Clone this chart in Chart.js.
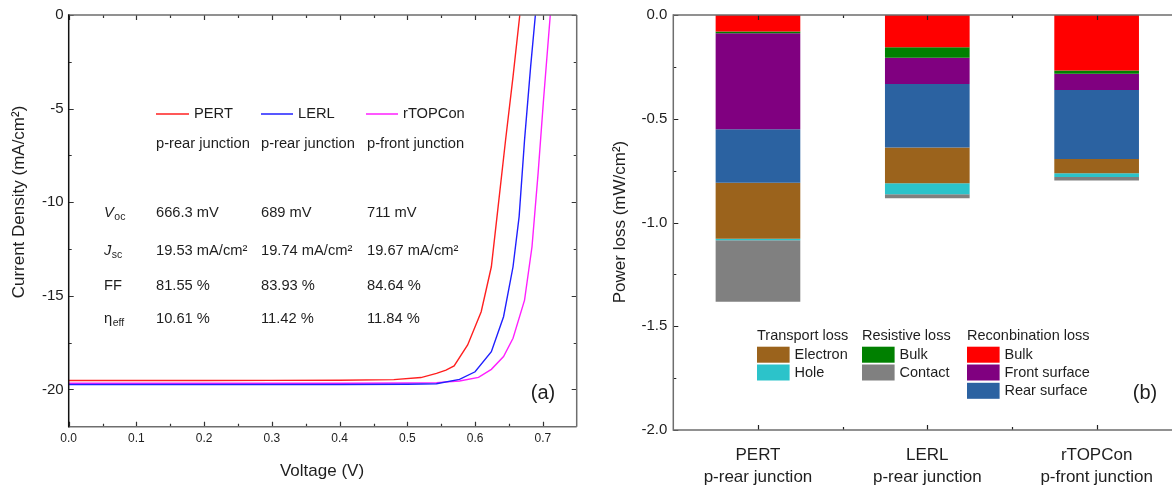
<!DOCTYPE html>
<html><head><meta charset="utf-8">
<script src="https://cdn.jsdelivr.net/npm/chart.js@4.4.0/dist/chart.umd.min.js"></script>
<style>
html,body{margin:0;padding:0;width:1172px;height:489px;overflow:hidden;background:#fff;}
#wl{position:absolute;left:0;top:0;width:590px;height:489px;}
#wr{position:absolute;left:590px;top:0;width:600px;height:489px;}
</style></head><body>
<div id="wl"><canvas id="cl" width="590" height="489"></canvas></div>
<div id="wr"><canvas id="cr" width="600" height="489"></canvas></div>
<script>
const FONT = '"Liberation Sans", Arial, Helvetica, sans-serif';
const TXT = '#1e1e1e';
const ANNO = '14.7px ';

// ---------- (a) J-V curves ----------
const seriesNames = ['PERT', 'LERL', 'rTOPCon'];
const seriesJunction = ['p-rear junction', 'p-rear junction', 'p-front junction'];
const seriesColors = ['#ff2020', '#2020ff', '#ff20ff'];

const pertV = [0, 0.1, 0.2, 0.3, 0.4, 0.48, 0.52, 0.543, 0.557, 0.569, 0.589, 0.609, 0.624, 0.634, 0.645, 0.656, 0.666];
const pertJ = [-19.53, -19.53, -19.53, -19.52, -19.51, -19.48, -19.37, -19.15, -18.97, -18.75, -17.63, -15.85, -13.45, -10.24, -6.68, -3.29, 0];
const lerlV = [0, 0.1, 0.2, 0.3, 0.4, 0.5, 0.543, 0.577, 0.600, 0.624, 0.642, 0.656, 0.665, 0.673, 0.682, 0.689];
const lerlJ = [-19.74, -19.74, -19.74, -19.74, -19.74, -19.73, -19.70, -19.47, -19.06, -17.99, -16.12, -13.45, -10.77, -6.68, -2.76, 0];
const rtopV = [0, 0.1, 0.2, 0.3, 0.4, 0.5, 0.543, 0.577, 0.605, 0.624, 0.642, 0.656, 0.673, 0.684, 0.693, 0.701, 0.711];
const rtopJ = [-19.67, -19.67, -19.67, -19.67, -19.67, -19.66, -19.64, -19.55, -19.36, -18.93, -18.25, -17.27, -15.23, -12.38, -8.46, -4.54, 0];

const xTickVals = [0, 0.1, 0.2, 0.3, 0.4, 0.5, 0.6, 0.7];
const xTickLabels = ['0.0', '0.1', '0.2', '0.3', '0.4', '0.5', '0.6', '0.7'];
const xMinorVals = [0.05, 0.15, 0.25, 0.35, 0.45, 0.55, 0.65];
const yTickVals = [0, -5, -10, -15, -20];
const yTickLabels = ['0', '-5', '-10', '-15', '-20'];
const yMinorVals = [-2.5, -7.5, -12.5, -17.5];

const vocVals = ['666.3 mV', '689 mV', '711 mV'];
const jscVals = ['19.53 mA/cm\u00B2', '19.74 mA/cm\u00B2', '19.67 mA/cm\u00B2'];
const ffVals = ['81.55 %', '83.93 %', '84.64 %'];
const effVals = ['10.61 %', '11.42 %', '11.84 %'];

// ---------- (b) power loss ----------
const lossCats = [['PERT', 'p-rear junction'], ['LERL', 'p-rear junction'], ['rTOPCon', 'p-front junction']];
const recBulk  = [-0.080, -0.156, -0.268];
const resBulk  = [-0.008, -0.050, -0.015];
const recFront = [-0.463, -0.127, -0.078];
const recRear  = [-0.257, -0.305, -0.333];
const trElec   = [-0.270, -0.173, -0.069];
const trHole   = [-0.008, -0.053, -0.018];
const resCont  = [-0.296, -0.019, -0.016];
const lossColors = { recBulk:'#ff0000', resBulk:'#008000', recFront:'#800080', recRear:'#2b62a1', trElec:'#9b631c', trHole:'#2cc3ca', resCont:'#808080' };
const yLossTickVals = [0, -0.5, -1.0, -1.5, -2.0];
const yLossTickLabels = ['0.0', '-0.5', '-1.0', '-1.5', '-2.0'];
const yLossMinor = [-0.25, -0.75, -1.25, -1.75];

function pts(v, j) { return v.map((x, i) => ({ x: x, y: j[i] })); }

function drawTicks(chart, o) {
  const { ctx, chartArea: a, scales } = chart;
  const xs = scales.x, ys = scales.y;
  ctx.save();
  ctx.strokeStyle = o.tickColor; ctx.lineWidth = 1.2;
  ctx.beginPath();
  const xt = (vals, len) => vals.forEach(v => {
    const p = Math.round(xs.getPixelForValue(v)) + 0.5;
    ctx.moveTo(p, a.bottom); ctx.lineTo(p, a.bottom - len);
    ctx.moveTo(p, a.top); ctx.lineTo(p, a.top + len);
  });
  const yt = (vals, len) => vals.forEach(v => {
    const p = Math.round(ys.getPixelForValue(v)) + 0.5;
    ctx.moveTo(a.left, p); ctx.lineTo(a.left + len, p);
    if (o.right) { ctx.moveTo(a.right, p); ctx.lineTo(a.right - len, p); }
  });
  xt(o.xMajor, 5); xt(o.xMinor, 3);
  yt(o.yMajor, 5); yt(o.yMinor, 3);
  ctx.stroke();
  ctx.lineWidth = 1.5;
  ctx.strokeStyle = o.frameColor;
  ctx.beginPath();
  ctx.moveTo(a.left, a.top); ctx.lineTo(a.right, a.top);
  ctx.moveTo(a.left, a.bottom); ctx.lineTo(a.right, a.bottom);
  if (o.right) { ctx.moveTo(a.right, a.top); ctx.lineTo(a.right, a.bottom); }
  ctx.stroke();
  ctx.strokeStyle = o.leftColor;
  ctx.beginPath(); ctx.moveTo(a.left, a.top - 0.7); ctx.lineTo(a.left, a.bottom + 0.7); ctx.stroke();
  ctx.restore();
}

function subText(ctx, main, sub, x, y, italic) {
  ctx.font = (italic ? 'italic ' : '') + ANNO + FONT;
  ctx.fillText(main, x, y);
  const w = ctx.measureText(main).width;
  ctx.font = '10.5px ' + FONT;
  ctx.fillText(sub, x + w + 0.5, y + 4.5);
}

const plugA = {
  id: 'plugA',
  afterDatasetsDraw(chart) {
    drawTicks(chart, { tickColor: '#333', frameColor: '#6e6e6e', leftColor: '#111', right: true,
      xMajor: xTickVals, xMinor: xMinorVals, yMajor: yTickVals, yMinor: yMinorVals });
    const ctx = chart.ctx;
    ctx.save();
    ctx.fillStyle = TXT; ctx.textBaseline = 'middle'; ctx.textAlign = 'left';
    const cols = [156, 261, 367];
    const lineX = [[156, 189], [261, 293], [366, 398]];
    seriesNames.forEach((n, i) => {
      ctx.strokeStyle = seriesColors[i]; ctx.lineWidth = 1.5;
      ctx.beginPath(); ctx.moveTo(lineX[i][0], 114); ctx.lineTo(lineX[i][1], 114); ctx.stroke();
      ctx.font = ANNO + FONT;
      ctx.fillText(n, lineX[i][1] + 5, 114);
      ctx.fillText(seriesJunction[i], cols[i], 144);
      ctx.fillText(vocVals[i], cols[i], 212.7);
      ctx.fillText(jscVals[i], cols[i], 251);
      ctx.fillText(ffVals[i], cols[i], 286);
      ctx.fillText(effVals[i], cols[i], 319);
    });
    subText(ctx, 'V', 'oc', 104, 212.7, true);
    subText(ctx, 'J', 'sc', 104, 251, true);
    ctx.font = ANNO + FONT; ctx.fillText('FF', 104, 286);
    subText(ctx, '\u03B7', 'eff', 104, 319, false);
    ctx.font = '20px ' + FONT; ctx.textAlign = 'center';
    ctx.fillText('(a)', 543, 393);
    ctx.font = '17px ' + FONT;
    ctx.fillText('Voltage (V)', 322, 471);
    ctx.translate(19, 202); ctx.rotate(-Math.PI / 2);
    ctx.fillText('Current Density (mA/cm\u00B2)', 0, 0);
    ctx.restore();
  }
};

new Chart(document.getElementById('cl'), {
  type: 'line',
  data: {
    datasets: [
      { label: 'PERT', data: pts(pertV, pertJ), borderColor: seriesColors[0] },
      { label: 'LERL', data: pts(lerlV, lerlJ), borderColor: seriesColors[1] },
      { label: 'rTOPCon', data: pts(rtopV, rtopJ), borderColor: seriesColors[2] }
    ].map(d => Object.assign(d, { borderWidth: 1.4, pointRadius: 0, tension: 0, fill: false }))
  },
  options: {
    responsive: false, animation: false, devicePixelRatio: 1,
    layout: { padding: { left: 0, right: 13.3, top: 15, bottom: 0 } },
    plugins: { legend: { display: false }, tooltip: { enabled: false } },
    scales: {
      x: {
        type: 'linear', min: 0, max: 0.75,
        grid: { display: false, drawTicks: false }, border: { display: false },
        afterBuildTicks: s => { s.ticks = xTickVals.map(v => ({ value: v })); },
        ticks: { font: { family: FONT, size: 12 }, color: TXT, padding: 5, maxRotation: 0, autoSkip: false,
                 callback: (v, i) => xTickLabels[i] },
        afterFit: s => { s.height = 62.2; }
      },
      y: {
        type: 'linear', min: -22, max: 0,
        grid: { display: false, drawTicks: false }, border: { display: false },
        afterBuildTicks: s => { s.ticks = yTickVals.map(v => ({ value: v })); },
        ticks: { font: { family: FONT, size: 15 }, color: TXT, padding: 5, autoSkip: false,
                 callback: (v, i) => yTickLabels[i] },
        afterFit: s => { s.width = 68.7; }
      }
    }
  },
  plugins: [plugA]
});

// ---------- (b) ----------
const lossSets = [
  { key: 'recBulk', label: 'Bulk', data: recBulk },
  { key: 'resBulk', label: 'Bulk', data: resBulk },
  { key: 'recFront', label: 'Front surface', data: recFront },
  { key: 'recRear', label: 'Rear surface', data: recRear },
  { key: 'trElec', label: 'Electron', data: trElec },
  { key: 'trHole', label: 'Hole', data: trHole },
  { key: 'resCont', label: 'Contact', data: resCont }
];
const legendGroups = [
  { title: 'Transport loss', keys: ['trElec', 'trHole'], x: 167 },
  { title: 'Resistive loss', keys: ['resBulk', 'resCont'], x: 272 },
  { title: 'Reconbination loss', keys: ['recBulk', 'recFront', 'recRear'], x: 377 }
];

const plugB = {
  id: 'plugB',
  afterDatasetsDraw(chart) {
    drawTicks(chart, { tickColor: '#222', frameColor: '#6e6e6e', leftColor: '#6e6e6e', right: false,
      xMajor: [0, 1, 2], xMinor: [0.5, 1.5], yMajor: yLossTickVals, yMinor: yLossMinor });
    const ctx = chart.ctx;
    ctx.save();
    ctx.fillStyle = TXT; ctx.textBaseline = 'middle'; ctx.textAlign = 'left';
    const rowsY = [354.7, 372.5, 390.8];
    legendGroups.forEach(g => {
      ctx.font = '14.5px ' + FONT; ctx.fillStyle = TXT;
      ctx.fillText(g.title, g.x, 335.7);
      g.keys.forEach((k, r) => {
        const ds = lossSets.find(d => d.key === k);
        ctx.fillStyle = lossColors[k];
        ctx.fillRect(g.x, rowsY[r] - 8, 32.6, 16);
        ctx.fillStyle = TXT;
        ctx.fillText(ds.label, g.x + 37.5, rowsY[r]);
      });
    });
    ctx.font = '20px ' + FONT; ctx.textAlign = 'center';
    ctx.fillText('(b)', 555, 393);
    ctx.font = '17px ' + FONT;
    ctx.translate(30, 222); ctx.rotate(-Math.PI / 2);
    ctx.fillText('Power loss (mW/cm\u00B2)', 0, 0);
    ctx.restore();
  }
};

new Chart(document.getElementById('cr'), {
  type: 'bar',
  data: {
    labels: lossCats,
    datasets: lossSets.map(d => ({ label: d.label, data: d.data, backgroundColor: lossColors[d.key],
      borderWidth: 0, barPercentage: 0.5, categoryPercentage: 1.0 }))
  },
  options: {
    responsive: false, animation: false, devicePixelRatio: 1,
    layout: { padding: { left: 0, right: 8.7, top: 15, bottom: 0 } },
    plugins: { legend: { display: false }, tooltip: { enabled: false } },
    scales: {
      x: {
        stacked: true,
        grid: { display: false, drawTicks: false }, border: { display: false },
        ticks: { font: { family: FONT, size: 17, lineHeight: 1.3 }, color: TXT, padding: 14, maxRotation: 0, autoSkip: false },
        afterFit: s => { s.height = 59; }
      },
      y: {
        stacked: true, min: -2, max: 0,
        grid: { display: false, drawTicks: false }, border: { display: false },
        afterBuildTicks: s => { s.ticks = yLossTickVals.map(v => ({ value: v })); },
        ticks: { font: { family: FONT, size: 15 }, color: TXT, padding: 6, autoSkip: false,
                 callback: (v, i) => yLossTickLabels[i] },
        afterFit: s => { s.width = 83.3; }
      }
    }
  },
  plugins: [plugB]
});
</script>
</body></html>
